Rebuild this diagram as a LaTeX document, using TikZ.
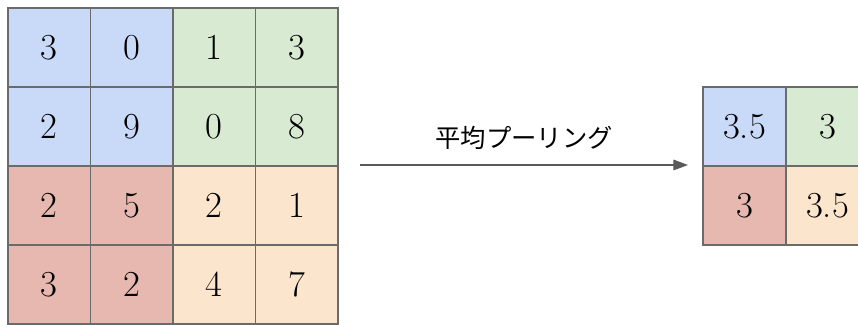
\documentclass[tikz,border=0pt]{standalone}
\usepackage{fontspec}
\newfontfamily\jpfont{Noto Sans CJK JP}
\usepackage{tikz}
\usetikzlibrary{positioning,arrows.meta,calc}

\definecolor{cellblue}{HTML}{C9DAF8}
\definecolor{cellgreen}{HTML}{D9EAD3}
\definecolor{cellred}{HTML}{E6B8AF}
\definecolor{cellorange}{HTML}{FCE5CD}
\definecolor{gridline}{HTML}{6B6B6B}
\definecolor{arrowgray}{HTML}{5A5A5A}

\begin{document}
\begin{tikzpicture}[x=0.75pt, y=0.75pt, >={Triangle[length=11pt,width=8pt]}]
		\tikzstyle{every node}=[font=\fontsize{27.5}{32}\selectfont]
		\tikzstyle{cell}=[draw=gridline, line width=1.1pt, inner sep=0pt,
		minimum width=61.9pt, minimum height=59.25pt]
		\tikzstyle{outcell}=[cell, minimum width=62.25pt]
		
		\useasboundingbox (0,0) rectangle (858,-325);
		\clip (0,0) rectangle (858,-325);
		
		% input 4x4
		\node [cell, fill=cellblue] (a11) at (49.25,-47.5) {3};
		\node [cell, fill=cellblue] (a12) at (131.75,-47.5) {0};
		\node [cell, fill=cellgreen] (a13) at (214.25,-47.5) {1};
		\node [cell, fill=cellgreen] (a14) at (296.75,-47.5) {3};
		
		\node [cell, fill=cellblue] (a21) at (49.25,-126.5) {2};
		\node [cell, fill=cellblue] (a22) at (131.75,-126.5) {9};
		\node [cell, fill=cellgreen] (a23) at (214.25,-126.5) {0};
		\node [cell, fill=cellgreen] (a24) at (296.75,-126.5) {8};
		
		\node [cell, fill=cellred] (a31) at (49.25,-205.5) {2};
		\node [cell, fill=cellred] (a32) at (131.75,-205.5) {5};
		\node [cell, fill=cellorange] (a33) at (214.25,-205.5) {2};
		\node [cell, fill=cellorange] (a34) at (296.75,-205.5) {1};
		
		\node [cell, fill=cellred] (a41) at (49.25,-284.5) {3};
		\node [cell, fill=cellred] (a42) at (131.75,-284.5) {2};
		\node [cell, fill=cellorange] (a43) at (214.25,-284.5) {4};
		\node [cell, fill=cellorange] (a44) at (296.75,-284.5) {7};
		
		% output 2x2
		\node [outcell, fill=cellblue] (b11) at (744.5,-126.5) {3.5};
		\node [outcell, fill=cellgreen] (b12) at (827.5,-126.5) {3};
		\node [outcell, fill=cellred] (b21) at (744.5,-205.5) {3};
		\node [outcell, fill=cellorange] (b22) at (827.5,-205.5) {3.5};
		
		% arrow
		\coordinate (from) at (360,-165);
		\coordinate (to) at (688,-165);
		\draw [->, draw=arrowgray, fill=arrowgray, line width=0.8pt] (from) to
		node [above=8pt, font=\jpfont\fontsize{19}{23}\selectfont, text=black]
		(lbl) {平均プーリング} (to);
	\end{tikzpicture}
\end{document}
